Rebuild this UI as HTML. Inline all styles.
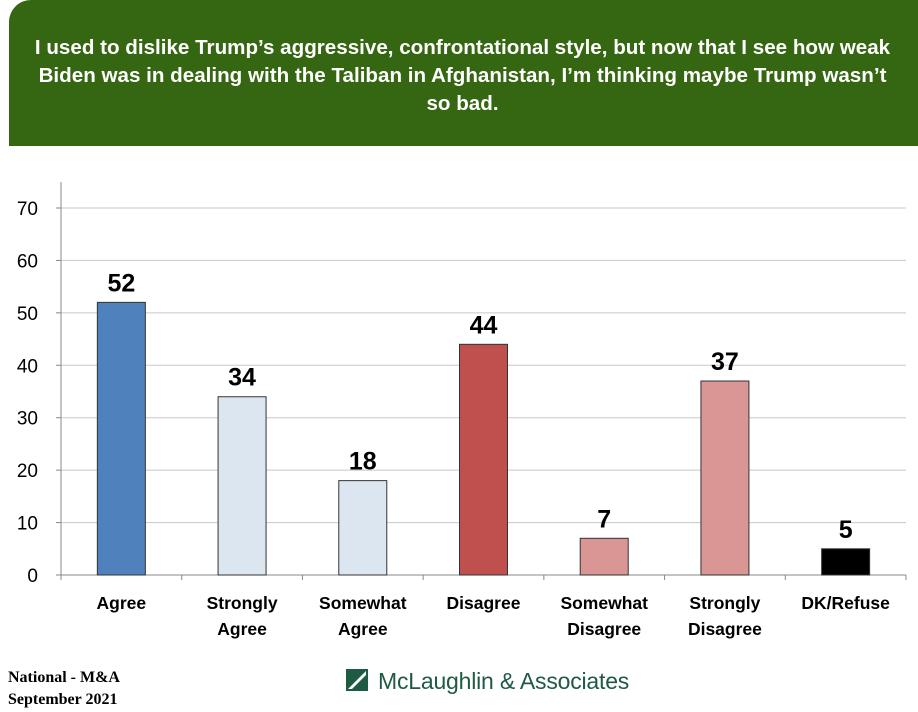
<!DOCTYPE html>
<html><head><meta charset="utf-8"><style>
body{margin:0;width:918px;height:712px;background:#fff;overflow:hidden;position:relative;font-family:"Liberation Sans",sans-serif}
#banner{position:absolute;left:9px;top:0;width:909px;height:146px;background:#356611;border-top-left-radius:22px}
#title{position:absolute;left:20px;top:34px;width:885px;text-align:center;color:#fff;font-weight:bold;font-size:20.6px;line-height:28px;white-space:nowrap}
#foot1{position:absolute;left:8px;top:667px;font-family:"Liberation Serif",serif;font-weight:bold;font-size:16px;line-height:22px}
#logo{position:absolute;left:346px;top:668px;font-size:23px;color:#1f5a43;letter-spacing:-0.2px}
</style></head><body>
<div id="banner"></div>
<div id="title">I used to dislike Trump’s aggressive, confrontational style, but now that I see how weak<br>Biden was in dealing with the Taliban in Afghanistan, I’m thinking maybe Trump wasn’t<br>so bad.</div>
<svg id="chart" width="918" height="712" style="position:absolute;left:0;top:0"></svg>
<div id="foot1">National - M&amp;A<br>September 2021</div>
<div id="logo"><svg width="22" height="22" style="vertical-align:-2px;margin-right:10px"><rect width="22" height="22" fill="#1f5a43"/><polygon points="2,20 20,2 20,6 6,20" fill="#fff"/></svg>McLaughlin &amp; Associates</div>
<script>
const categories=[["Agree"],["Strongly","Agree"],["Somewhat","Agree"],["Disagree"],["Somewhat","Disagree"],["Strongly","Disagree"],["DK/Refuse"]];
const values=[52,34,18,44,7,37,5];
const colors=["#4f81bd","#dce6f1","#dce6f1","#c0504d","#d99694","#d99694","#000000"];
const yTicks=[0,10,20,30,40,50,60,70];
const svg=document.getElementById('chart');const NS="http://www.w3.org/2000/svg";
const x0=61,x1=906,y0=575,yTop=208,yMax=70;
const y=v=>y0-(v/yMax)*(y0-yTop);
const band=(x1-x0)/categories.length;
const xc=i=>x0+band*(i+0.5);
function mk(t,a,p){const e=document.createElementNS(NS,t);for(const k in a)e.setAttribute(k,a[k]);(p||svg).appendChild(e);return e;}
yTicks.forEach(t=>{
 if(t>0){const g=mk('line',{x1:x0,x2:x1,y1:y(t),y2:y(t),stroke:'#c8c8c8','stroke-width':1});
 
 }
 mk('line',{x1:x0-5,x2:x0,y1:y(t),y2:y(t),stroke:'#888'});
 const l=mk('text',{x:38,y:y(t)+7,'text-anchor':'end','font-size':19,fill:'#000'});l.textContent=t;
 
 
});
mk('line',{x1:x0,x2:x0,y1:182,y2:y0,stroke:'#888'});
mk('line',{x1:x0,x2:x1,y1:y0,y2:y0,stroke:'#888'});
for(let i=0;i<=categories.length;i++)mk('line',{x1:x0+band*i,x2:x0+band*i,y1:y0,y2:y0+5,stroke:'#888'});
values.forEach((v,i)=>{
 const bw=48;
 const r=mk('rect',{x:xc(i)-bw/2,y:y(v),width:bw,height:y0-y(v),fill:colors[i],stroke:'#333','stroke-width':1});
 
 
 const t=mk('text',{x:xc(i),y:y(v)-11,'text-anchor':'middle','font-size':25,'font-weight':'bold'});t.textContent=v;
 
 
 categories[i].forEach((w,j)=>{
  const c=mk('text',{x:xc(i),y:609+j*26,'text-anchor':'middle','font-size':17.5,'font-weight':'bold'});c.textContent=w;
  
  
 });
});
</script>
</body></html>
